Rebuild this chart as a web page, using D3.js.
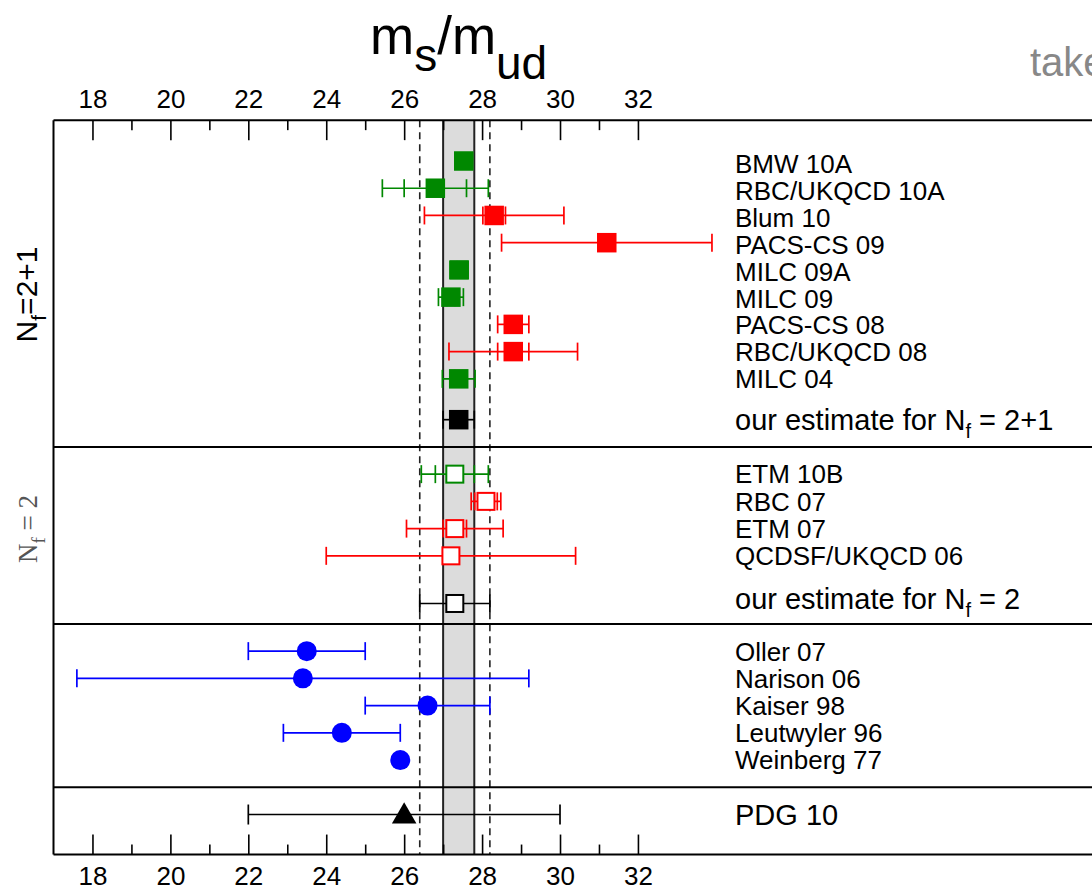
<!DOCTYPE html>
<html>
<head>
<meta charset="utf-8">
<script src="https://cdn.jsdelivr.net/npm/d3@7"></script>
<style>
  html, body { margin: 0; padding: 0; background: #fff; overflow: hidden; }
  svg { display: block; }
</style>
</head>
<body>
<svg id="chart" width="1092" height="890"></svg>
<script>
// ---- Nf = 2+1 lattice results ----
const nf21Names = ["BMW 10A", "RBC/UKQCD 10A", "Blum 10", "PACS-CS 09", "MILC 09A",
                   "MILC 09", "PACS-CS 08", "RBC/UKQCD 08", "MILC 04"];
const nf21Value = [27.53, 26.8, 28.31, 31.2, 27.41, 27.2, 28.8, 28.8, 27.4];
const nf21Stat  = [0.20, 0.8, 0.29, 2.7, 0.05, 0.1, 0.4, 0.4, 0.1];
const nf21Total = [0.22, 1.36, 1.79, 2.7, 0.23, 0.32, 0.4, 1.65, 0.42];
const nf21Flag  = ["ok", "ok", "no", "no", "ok", "ok", "no", "no", "ok"];
const nf21Estimate = { value: 27.4, error: 0.4 };

// ---- Nf = 2 lattice results ----
const nf2Names = ["ETM 10B", "RBC 07", "ETM 07", "QCDSF/UKQCD 06"];
const nf2Value = [27.3, 28.1, 27.3, 27.2];
const nf2Stat  = [0.5, 0.29, 0.3, 3.2];
const nf2Total = [0.86, 0.38, 1.24, 3.2];
const nf2Flag  = ["ok", "no", "no", "no"];
const nf2Estimate = { value: 27.3, error: 0.9 };

// ---- phenomenology ----
const phenoNames = ["Oller 07", "Narison 06", "Kaiser 98", "Leutwyler 96", "Weinberg 77"];
const phenoValue = [23.5, 23.4, 26.6, 24.4, 25.9];
const phenoError = [1.5, 5.8, 1.6, 1.5, 0];

// ---- PDG ----
const pdgName = "PDG 10";
const pdgValue = 26.0;
const pdgError = 4.0;

// ---- axis ticks ----
const majorTicks = [18, 20, 22, 24, 26, 28, 30, 32];
const minorTicks = [19, 21, 23, 25, 27, 29, 31];

// ---- drawing ----
const SANS = "'Liberation Sans', Arial, Helvetica, sans-serif";
const SERIF = "'Liberation Serif', 'DejaVu Serif', serif";
const svg = d3.select("#chart").style("font-family", SANS);
const x = d3.scaleLinear().domain([17, 33]).range([53.5, 676.9]);
// vertical slot -> pixel
const y = d3.scaleLinear().domain([0, 1]).range([161, 188.23]);
const yTop = y(-1.5), yBot = y(25.47);
const xLeft = x(17), xRight = 1200;

const flagColor = d3.scaleOrdinal().domain(["ok", "no"]).range(["#008800", "#ff0000"]);
const labelX = 735;

// band and dashed lines
svg.append("rect")
  .attr("x", x(nf21Estimate.value - nf21Estimate.error))
  .attr("y", yTop)
  .attr("width", x(nf21Estimate.value + nf21Estimate.error) - x(nf21Estimate.value - nf21Estimate.error))
  .attr("height", yBot - yTop)
  .attr("fill", "#dcdcdc");
[nf21Estimate.value - nf21Estimate.error, nf21Estimate.value + nf21Estimate.error].forEach(v => {
  svg.append("line").attr("x1", x(v)).attr("x2", x(v)).attr("y1", yTop).attr("y2", yBot)
    .attr("stroke", "#222").attr("stroke-width", 2);
});
[nf2Estimate.value - nf2Estimate.error, nf2Estimate.value + nf2Estimate.error].forEach(v => {
  svg.append("line").attr("x1", x(v)).attr("x2", x(v)).attr("y1", yTop).attr("y2", yBot)
    .attr("stroke", "#222").attr("stroke-width", 1.6).attr("stroke-dasharray", "7,5");
});

// axes
const topMajor = d3.axisTop(x).tickValues(majorTicks).tickSizeInner(-20).tickSizeOuter(0)
  .tickPadding(12).tickFormat(d3.format("d"));
const topMinor = d3.axisTop(x).tickValues(minorTicks).tickSizeInner(-10).tickSizeOuter(0).tickFormat("");
const botMajor = d3.axisBottom(x).tickValues(majorTicks).tickSizeInner(-20).tickSizeOuter(0)
  .tickPadding(12).tickFormat(d3.format("d"));
const botMinor = d3.axisBottom(x).tickValues(minorTicks).tickSizeInner(-10).tickSizeOuter(0).tickFormat("");

function styleAxis(g) {
  g.attr("font-family", null).attr("font-size", null);
  g.select(".domain").remove();
  g.selectAll(".tick line").attr("stroke", "#000").attr("stroke-width", 1.6);
  g.selectAll(".tick text").attr("fill", "#000").style("font-size", "26px").style("font-family", SANS);
}
svg.append("g").attr("transform", `translate(0,${yTop})`).call(topMajor).call(styleAxis);
svg.append("g").attr("transform", `translate(0,${yTop})`).call(topMinor).call(styleAxis);
svg.append("g").attr("transform", `translate(0,${yBot})`).call(botMajor).call(styleAxis);
svg.append("g").attr("transform", `translate(0,${yBot})`).call(botMinor).call(styleAxis);

// frame and section separators
const frame = svg.append("g").attr("stroke", "#000").attr("stroke-width", 2);
frame.append("line").attr("x1", xLeft).attr("x2", xRight).attr("y1", yTop).attr("y2", yTop);
frame.append("line").attr("x1", xLeft).attr("x2", xRight).attr("y1", yBot).attr("y2", yBot);
frame.append("line").attr("x1", xLeft).attr("x2", xLeft).attr("y1", yTop).attr("y2", yBot);
[10.5, 17.0, 23.0].forEach(s => {
  frame.append("line").attr("x1", xLeft).attr("x2", xRight).attr("y1", y(s)).attr("y2", y(s));
});

// error bar helper
function errorBar(g, cy, v, stat, total, color, capH) {
  const e = g.append("g").attr("stroke", color).attr("stroke-width", 1.7).attr("fill", "none");
  if (total > 0) {
    e.append("line").attr("x1", x(v - total)).attr("x2", x(v + total)).attr("y1", cy).attr("y2", cy);
    [v - total, v + total].forEach(t => e.append("line")
      .attr("x1", x(t)).attr("x2", x(t)).attr("y1", cy - capH / 2).attr("y2", cy + capH / 2));
  }
  if (stat > 0 && stat < total) {
    [v - stat, v + stat].forEach(t => e.append("line")
      .attr("x1", x(t)).attr("x2", x(t)).attr("y1", cy - capH / 2).attr("y2", cy + capH / 2));
  }
}
function square(g, cx, cy, color, open) {
  const s = open ? 17 : 19.5;
  g.append("rect").attr("x", cx - s / 2).attr("y", cy - s / 2).attr("width", s).attr("height", s)
    .attr("fill", open ? "#fff" : color)
    .attr("stroke", open ? color : "none").attr("stroke-width", 2);
}
// label: baseline position, font size, parts (with optional subscript)
function label(g, baseY, size, parts) {
  const t = g.append("text").attr("x", labelX).attr("y", baseY).style("font-size", size + "px").attr("fill", "#000");
  parts.forEach(p => {
    const ts = t.append("tspan").text(p.t);
    if (p.sub) ts.style("font-size", Math.round(size * 0.7) + "px").attr("dy", 8);
    if (p.back) ts.attr("dy", -8);
  });
}

const marks = svg.append("g");
const labels = svg.append("g");

// Nf = 2+1
nf21Names.forEach((name, i) => {
  const cy = y(i), c = flagColor(nf21Flag[i]);
  errorBar(marks, cy, nf21Value[i], nf21Stat[i], nf21Total[i], c, 18);
  square(marks, x(nf21Value[i]), cy, c, false);
  label(labels, 173.3 + i * 26.84, 26, [{ t: name }]);
});
{
  const cy = y(9.5);
  errorBar(marks, cy, nf21Estimate.value, 0, nf21Estimate.error, "#000", 18);
  square(marks, x(nf21Estimate.value), cy, "#000", false);
  label(labels, 429.5, 29, [{ t: "our estimate for N" }, { t: "f", sub: true }, { t: " = 2+1", back: true }]);
}

// Nf = 2
nf2Names.forEach((name, i) => {
  const cy = y(11.5 + i), c = flagColor(nf2Flag[i]);
  errorBar(marks, cy, nf2Value[i], nf2Stat[i], nf2Total[i], c, 18);
  square(marks, x(nf2Value[i]), cy, c, true);
  label(labels, 483.3 + i * 27.2, 26, [{ t: name }]);
});
{
  const cy = y(16.25);
  errorBar(marks, cy, nf2Estimate.value, 0, nf2Estimate.error, "#000", 18);
  square(marks, x(nf2Estimate.value), cy, "#000", true);
  label(labels, 608.5, 29, [{ t: "our estimate for N" }, { t: "f", sub: true }, { t: " = 2", back: true }]);
}

// phenomenology
phenoNames.forEach((name, i) => {
  const cy = y(18 + i);
  errorBar(marks, cy, phenoValue[i], 0, phenoError[i], "#0000ff", 18);
  marks.append("circle").attr("cx", x(phenoValue[i])).attr("cy", cy).attr("r", 10).attr("fill", "#0000ff");
  label(labels, 660.5 + i * 27, 26, [{ t: name }]);
});

// PDG
{
  const cy = y(24);
  errorBar(marks, cy, pdgValue, 0, pdgError, "#000", 20);
  const tri = d3.symbol().type(d3.symbolTriangle).size(260);
  marks.append("path").attr("d", tri()).attr("transform", `translate(${x(pdgValue)},${cy + 2})`).attr("fill", "#000");
  label(labels, 825, 29, [{ t: pdgName }]);
}

// section labels on the left
const l1 = svg.append("text").attr("transform", `translate(37,${y(4.9)}) rotate(-90)`)
  .attr("text-anchor", "middle").style("font-size", "30px").attr("fill", "#000");
l1.append("tspan").text("N");
l1.append("tspan").text("f").style("font-size", "21px").attr("dy", 9);
l1.append("tspan").text("=2+1").attr("dy", -9);

const l2 = svg.append("text").attr("transform", `translate(37,529) rotate(-90)`)
  .attr("text-anchor", "middle").style("font-size", "27px").attr("fill", "#555")
  .style("font-family", SERIF);
l2.append("tspan").text("N");
l2.append("tspan").text("f").style("font-size", "19px").attr("dy", 8);
l2.append("tspan").text(" = 2").attr("dy", -8);

// title
const title = svg.append("text").attr("x", 370).attr("y", 54).style("font-size", "53px").attr("fill", "#000");
title.append("tspan").text("m");
title.append("tspan").text("s").style("font-size", "46px").attr("dy", 17);
title.append("tspan").text("/m").attr("dy", -17);
title.append("tspan").text("ud").style("font-size", "46px").attr("dy", 25);

// source note in the upper right corner
svg.append("text").attr("x", 1030).attr("y", 76).style("font-size", "40px").attr("fill", "#888")
  .text("taken from FLAG");
</script>
</body>
</html>
